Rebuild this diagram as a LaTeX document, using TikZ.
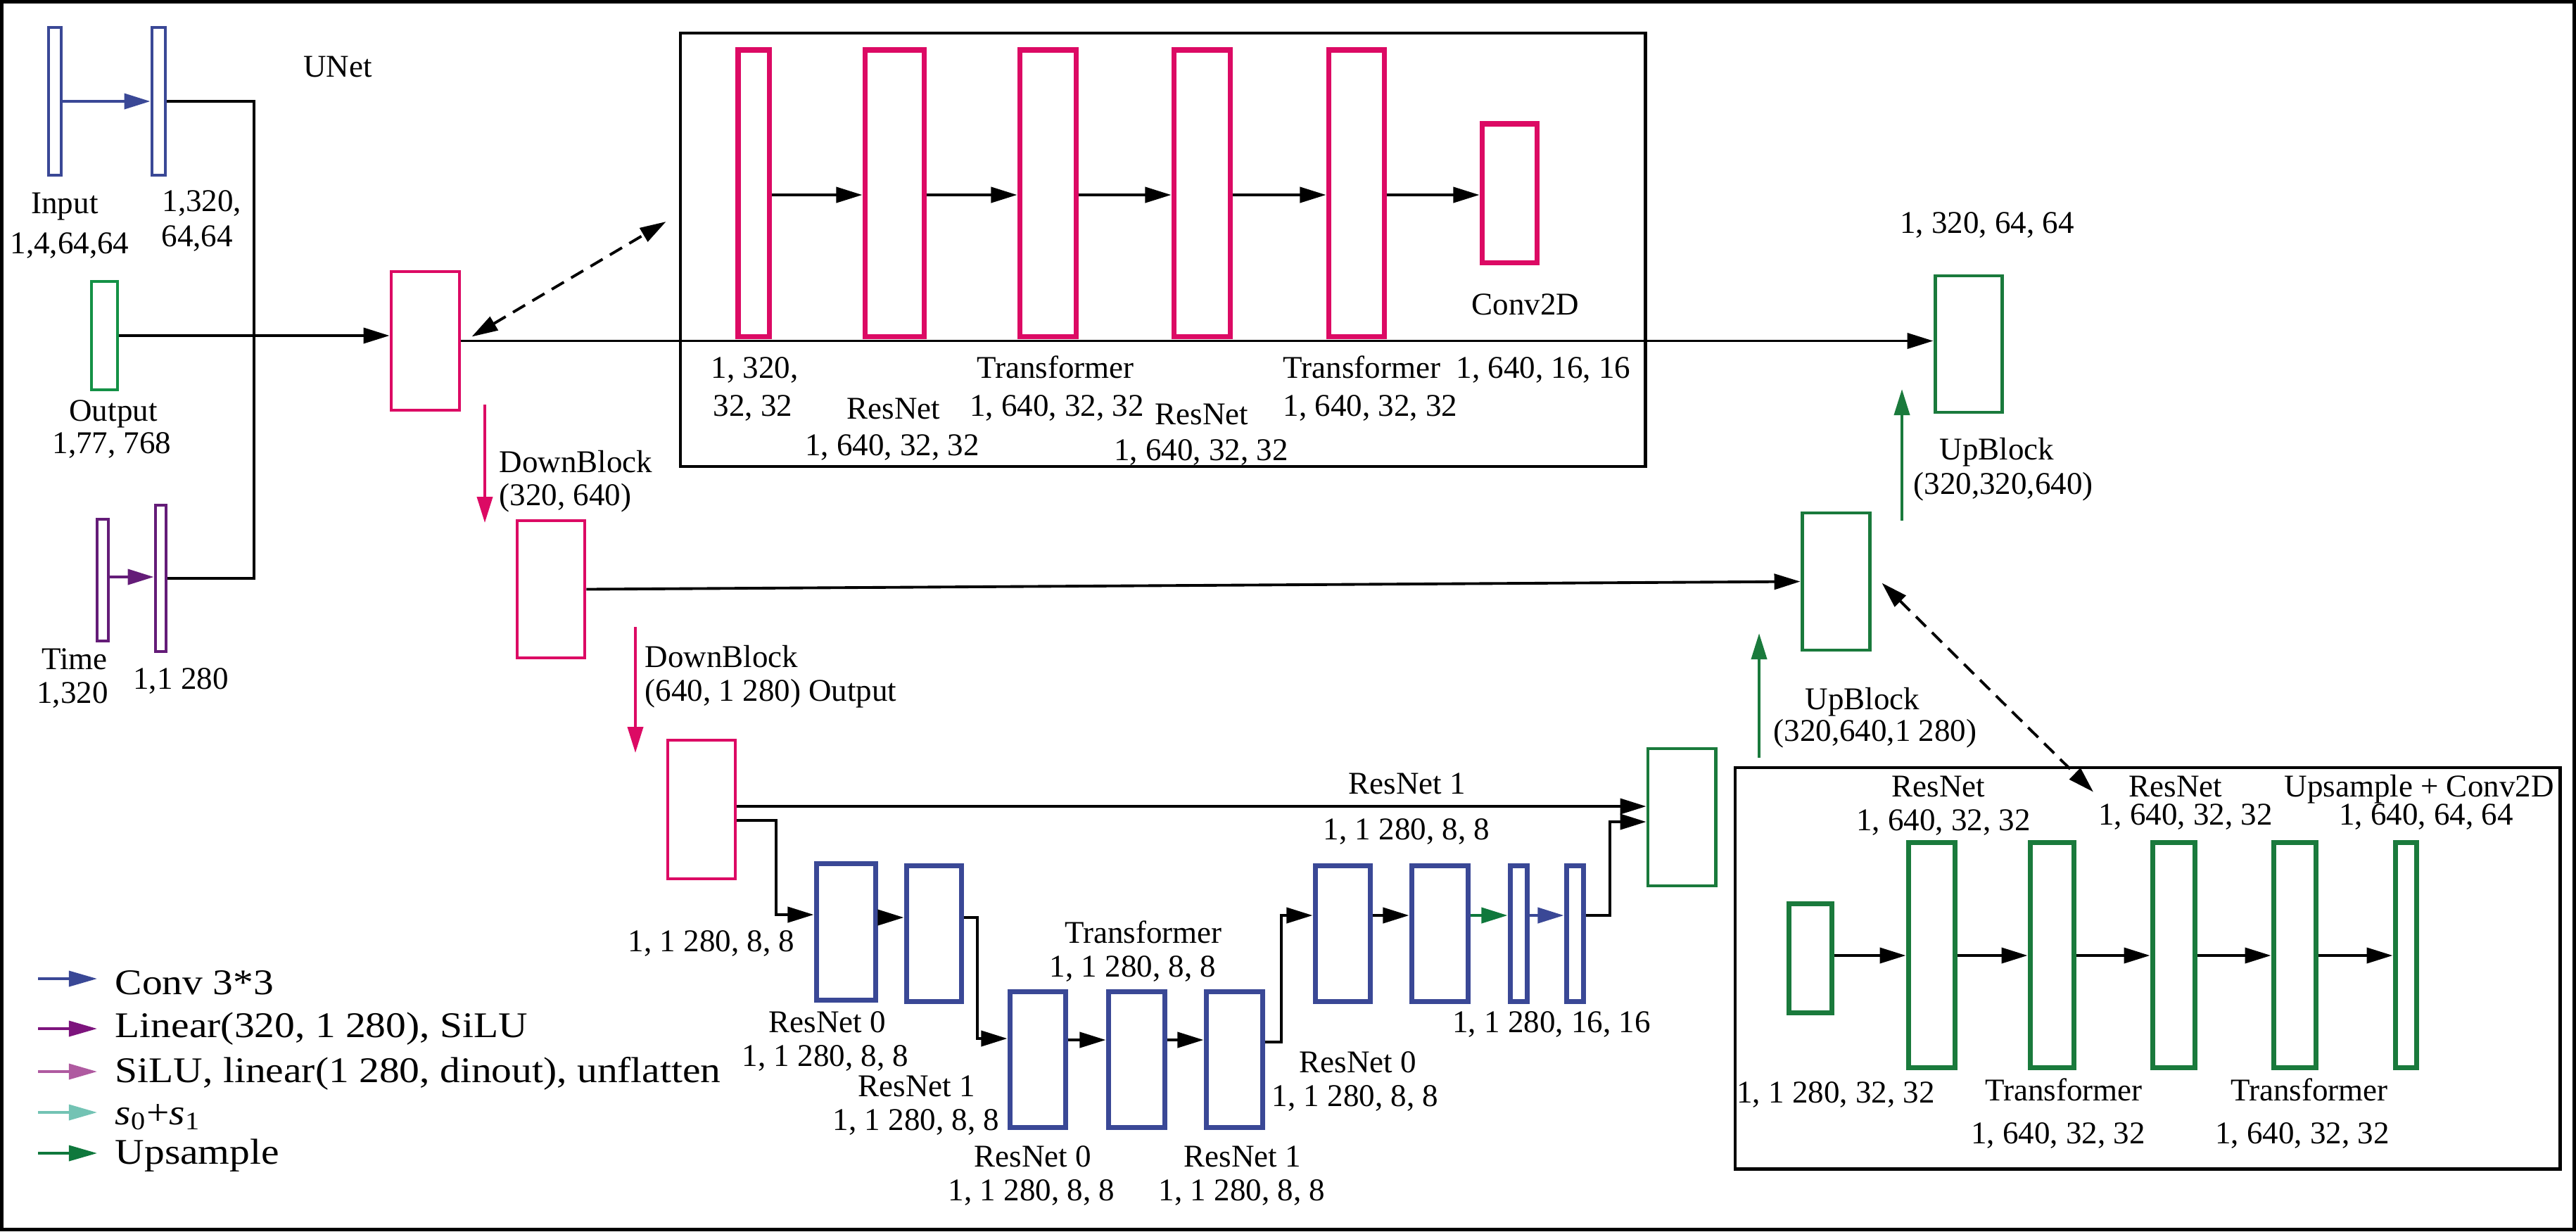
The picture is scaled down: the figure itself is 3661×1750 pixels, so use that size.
\documentclass[tikz,border=0pt]{standalone}
\usepackage{fontspec}
\setmainfont{Liberation Serif}
\usetikzlibrary{arrows.meta}
\definecolor{pinkc}{RGB}{220,10,100}
\definecolor{bluec}{RGB}{58,72,150}
\definecolor{greenc}{RGB}{26,122,60}
\definecolor{outgreen}{RGB}{20,145,70}
\definecolor{purplec}{RGB}{100,28,120}
\definecolor{legpurple}{RGB}{125,20,125}
\definecolor{legpink}{RGB}{175,90,160}
\definecolor{legteal}{RGB}{115,195,180}
\definecolor{legblue}{RGB}{58,72,150}
\definecolor{leggreen}{RGB}{15,120,60}
\newcommand{\myrect}[6]{%
  \pgfmathsetmacro\rcx{(#3+#5)/2}%
  \pgfmathsetmacro\rcy{(#4+#6)/2}%
  \pgfmathsetmacro\rw{(#5-#3-6)*0.01}%
  \pgfmathsetmacro\rh{(#6-#4-6)*0.01}%
  \node[#2, minimum width=\rw cm, minimum height=\rh cm] (#1) at (\rcx,\rcy) {};}
\newcommand{\lbl}[5]{\node[lab, anchor=#2] (#1) at (#3,{#4+15}) {#5};}
\begin{document}
\begin{tikzpicture}[x=0.01cm,y=-0.01cm,
  thinbox/.style={draw, line width=1.4pt, inner sep=0pt},
  thickbox/.style={draw, line width=2pt, inner sep=0pt},
  ln/.style={line width=1.1pt},
  arr/.style={ln, -{Triangle[length=0.37cm,width=0.22cm]}},
  legarr/.style={line width=1pt, -{Triangle[length=0.4cm,width=0.22cm]}},
  darr/.style={ln, dash pattern=on 0.2cm off 0.12cm, {Triangle[length=0.37cm,width=0.22cm]}-{Triangle[length=0.37cm,width=0.22cm]}},
  lab/.style={inner sep=0pt, font=\fontsize{12.8}{15}\selectfont},
  leg/.style={inner sep=0pt, xscale=1.12, transform shape, font=\fontsize{14.6}{17}\selectfont}]
\useasboundingbox (0,0) rectangle (3661,1750);
\draw[line width=1.4pt] (2.5,2.5) rectangle (3658.5,1747.5);

% left column
\myrect{in1}{thinbox,draw=bluec}{66}{36}{90}{252}
\myrect{in2}{thinbox,draw=bluec}{213}{36}{238}{252}
\myrect{outb}{thinbox,draw=outgreen}{127}{397}{170}{557}
\myrect{t1}{thinbox,draw=purplec}{135}{735}{157}{914}
\myrect{t2}{thinbox,draw=purplec}{218}{715}{239}{929}
% down path
\myrect{p1}{thinbox,draw=pinkc}{553}{383}{656}{586}
\myrect{p2}{thinbox,draw=pinkc}{732}{737}{834}{938}
\myrect{p3}{thinbox,draw=pinkc}{946}{1049}{1048}{1252}
% UNet detail box
\myrect{unetbox}{thinbox,draw=black}{964}{44}{2341}{666}
\myrect{u1}{thickbox,draw=pinkc}{1046}{68}{1096}{481}
\myrect{u2}{thickbox,draw=pinkc}{1226}{68}{1316}{481}
\myrect{u3}{thickbox,draw=pinkc}{1446}{68}{1532}{481}
\myrect{u4}{thickbox,draw=pinkc}{1665}{68}{1751}{481}
\myrect{u5}{thickbox,draw=pinkc}{1885}{68}{1970}{481}
\myrect{u6}{thickbox,draw=pinkc}{2103}{173}{2187}{376}
% up path
\myrect{g1}{thinbox,draw=greenc}{2747}{389}{2848}{589}
\myrect{g2}{thinbox,draw=greenc}{2558}{726}{2660}{927}
\myrect{g3}{thinbox,draw=greenc}{2339}{1061}{2441}{1262}
% lower right box
\myrect{lowbox}{thinbox,draw=black}{2463}{1088}{3641}{1664}
\myrect{d0}{thickbox,draw=greenc}{2539}{1281}{2606}{1442}
\myrect{d1}{thickbox,draw=greenc}{2709}{1194}{2781}{1520}
\myrect{d2}{thickbox,draw=greenc}{2882}{1194}{2950}{1520}
\myrect{d3}{thickbox,draw=greenc}{3056}{1194}{3122}{1520}
\myrect{d4}{thickbox,draw=greenc}{3228}{1194}{3294}{1520}
\myrect{d5}{thickbox,draw=greenc}{3401}{1194}{3437}{1520}
% mid block (blue)
\myrect{a1}{thickbox,draw=bluec}{1157}{1224}{1247}{1424}
\myrect{a2}{thickbox,draw=bluec}{1285}{1227}{1369}{1426}
\myrect{b1}{thickbox,draw=bluec}{1432}{1406}{1517}{1605}
\myrect{b2}{thickbox,draw=bluec}{1572}{1406}{1658}{1605}
\myrect{b3}{thickbox,draw=bluec}{1711}{1406}{1797}{1605}
\myrect{c1}{thickbox,draw=bluec}{1866}{1227}{1950}{1426}
\myrect{c2}{thickbox,draw=bluec}{2003}{1227}{2089}{1426}
\myrect{c3}{thickbox,draw=bluec}{2143}{1227}{2173}{1426}
\myrect{c4}{thickbox,draw=bluec}{2223}{1227}{2253}{1426}

% connectors left
\draw[arr,bluec] (in1.east) -- (in2.west);
\draw[arr,purplec] (t1.east |- 0,820) -- (t2.west |- 0,820);
\draw[ln] (in2.east) -- (361,144) -- (361,822) -- (t2.east);
\draw[arr] (outb.east) -- (outb.east -| p1.west);
\draw[arr] (p1.east) -- (p1.east -| g1.west);
\draw[darr] ([shift={(15,-6)}]p1.east) -- ([shift={(-18,-40)}]unetbox.west);
% UNet internal
\draw[arr] (u1.east |- 0,277) -- (u2.west |- 0,277);
\draw[arr] (u2.east |- 0,277) -- (u3.west |- 0,277);
\draw[arr] (u3.east |- 0,277) -- (u4.west |- 0,277);
\draw[arr] (u4.east |- 0,277) -- (u5.west |- 0,277);
\draw[arr] (u5.east |- 0,277) -- (u6.west |- 0,277);
% down arrows
\coordinate (pa1s) at (689,575); \coordinate (pa1e) at (689,743);
\draw[arr,pinkc] (pa1s) -- (pa1e);
\coordinate (pa2s) at (903,891); \coordinate (pa2e) at (903,1070);
\draw[arr,pinkc] (pa2s) -- (pa2e);
\draw[arr] (p2.east) -- (g2.west);
% mid block
\draw[arr] (p3.east |- 0,1146) -- (g3.west |- 0,1146);
\draw[arr] (p3.east |- 0,1166) -- (1103,1166) -- (1103,1300) -- (a1.west |- 0,1300);
\draw[arr] (a1.east |- 0,1304) -- (a2.west |- 0,1304);
\draw[arr] (a2.east |- 0,1304) -- (1389,1304) -- (1389,1476) -- (b1.west |- 0,1476);
\draw[arr] (b1.east |- 0,1478) -- (b2.west |- 0,1478);
\draw[arr] (b2.east |- 0,1478) -- (b3.west |- 0,1478);
\draw[arr] (b3.east |- 0,1481) -- (1821,1481) -- (1821,1301) -- (c1.west |- 0,1301);
\draw[arr] (c1.east |- 0,1301) -- (c2.west |- 0,1301);
\draw[arr,leggreen] (c2.east |- 0,1301) -- (c3.west |- 0,1301);
\draw[arr,bluec] (c3.east |- 0,1301) -- (c4.west |- 0,1301);
\draw[arr] (c4.east |- 0,1301) -- (2288,1301) -- (2288,1168) -- (g3.west |- 0,1168);
% up arrows
\coordinate (ga1s) at (2500,1077); \coordinate (ga1e) at (2500,900);
\draw[arr,greenc] (ga1s) -- (ga1e);
\coordinate (ga2s) at (2703,740); \coordinate (ga2e) at (2703,553);
\draw[arr,greenc] (ga2s) -- (ga2e);
\draw[darr] ([shift={(15,2)}]g2.east) -- ([shift={(-77,37)}]lowbox.north);
% lower box internal
\draw[arr] (d0.east |- 0,1358) -- (d1.west |- 0,1358);
\draw[arr] (d1.east |- 0,1358) -- (d2.west |- 0,1358);
\draw[arr] (d2.east |- 0,1358) -- (d3.west |- 0,1358);
\draw[arr] (d3.east |- 0,1358) -- (d4.west |- 0,1358);
\draw[arr] (d4.east |- 0,1358) -- (d5.west |- 0,1358);

% labels left
\lbl{tUNet}{base}{480}{94}{UNet}
\lbl{tIn}{base}{92}{288}{Input}
\lbl{tIn2}{base}{99}{345}{1,4,64,64}
\lbl{tC1}{base west}{230}{285}{1,320,}
\lbl{tC2}{base west}{229}{335}{64,64}
\lbl{tOut}{base}{161}{583}{Output}
\lbl{tOut2}{base}{159}{629}{1,77, 768}
\lbl{tTime}{base}{106}{936}{Time}
\lbl{tTime2}{base}{103}{984}{1,320}
\lbl{tT2}{base}{257}{964}{1,1 280}
% UNet box labels
\lbl{tu1a}{base west}{1010}{522}{1, 320,}
\lbl{tu1b}{base west}{1013}{576}{32, 32}
\lbl{tu2a}{base}{1270}{580}{ResNet}
\lbl{tu2b}{base}{1268}{632}{1, 640, 32, 32}
\lbl{tu3a}{base}{1500}{522}{Transformer}
\lbl{tu3b}{base}{1502}{576}{1, 640, 32, 32}
\lbl{tu4a}{base}{1708}{588}{ResNet}
\lbl{tu4b}{base}{1707}{639}{1, 640, 32, 32}
\lbl{tu5a}{base west}{1823}{522}{Transformer}
\lbl{tu5b}{base west}{1823}{576}{1, 640, 32, 32}
\lbl{tu6b}{base west}{2069}{522}{1, 640, 16, 16}
\lbl{tu6a}{base}{2168}{432}{Conv2D}
% down labels
\lbl{tdb1a}{base west}{709}{656}{DownBlock}
\lbl{tdb1b}{base west}{709}{703}{(320, 640)}
\lbl{tdb2a}{base west}{916}{933}{DownBlock}
\lbl{tdb2b}{base west}{916}{981}{(640, 1 280) Output}
% up labels
\lbl{tg1}{base}{2824}{316}{1, 320, 64, 64}
\lbl{tub1a}{base}{2838}{638}{UpBlock}
\lbl{tub1b}{base}{2847}{687}{(320,320,640)}
\lbl{tub2a}{base}{2647}{993}{UpBlock}
\lbl{tub2b}{base}{2665}{1038}{(320,640,1 280)}
% mid labels
\lbl{tr1a}{base}{2000}{1113}{ResNet 1}
\lbl{tr1b}{base}{1999}{1178}{1, 1 280, 8, 8}
\lbl{tm0}{base}{1011}{1337}{1, 1 280, 8, 8}
\lbl{tm1a}{base}{1625}{1325}{Transformer}
\lbl{tm1b}{base}{1610}{1373}{1, 1 280, 8, 8}
\lbl{tm2a}{base}{1176}{1452}{ResNet 0}
\lbl{tm2b}{base}{1173}{1500}{1, 1 280, 8, 8}
\lbl{tm3a}{base}{1303}{1543}{ResNet 1}
\lbl{tm3b}{base}{1302}{1591}{1, 1 280, 8, 8}
\lbl{tm4a}{base}{1468}{1643}{ResNet 0}
\lbl{tm4b}{base}{1466}{1691}{1, 1 280, 8, 8}
\lbl{tm5a}{base}{1766}{1643}{ResNet 1}
\lbl{tm5b}{base}{1765}{1691}{1, 1 280, 8, 8}
\lbl{tm6a}{base}{1930}{1509}{ResNet 0}
\lbl{tm6b}{base}{1926}{1557}{1, 1 280, 8, 8}
\lbl{tm7}{base}{2205}{1452}{1, 1 280, 16, 16}
% lower box labels
\lbl{tl1a}{base}{2755}{1117}{ResNet}
\lbl{tl1b}{base}{2762}{1165}{1, 640, 32, 32}
\lbl{tl2a}{base}{3092}{1117}{ResNet}
\lbl{tl2b}{base}{3106}{1157}{1, 640, 32, 32}
\lbl{tl3a}{base}{3438}{1117}{Upsample + Conv2D}
\lbl{tl3b}{base}{3448}{1157}{1, 640, 64, 64}
\lbl{tl4}{base}{2609}{1552}{1, 1 280, 32, 32}
\lbl{tl5a}{base}{2933}{1549}{Transformer}
\lbl{tl5b}{base}{2925}{1610}{1, 640, 32, 32}
\lbl{tl6a}{base}{3282}{1549}{Transformer}
\lbl{tl6b}{base}{3272}{1610}{1, 640, 32, 32}

% legend
\foreach \i/\yy/\cc in {1/1391/legblue, 2/1462/legpurple, 3/1523/legpink, 4/1581/legteal, 5/1639/leggreen} {
  \coordinate (ls\i) at (54,\yy);
  \coordinate (le\i) at (138,\yy);
  \draw[legarr,\cc] (ls\i) -- (le\i);
}
\node[leg, anchor=base west] (lt1) at (163,1413) {Conv 3*3};
\node[leg, anchor=base west] (lt2) at (163,1474) {Linear(320, 1 280), SiLU};
\node[leg, anchor=base west] (lt3) at (163,1538) {SiLU, linear(1 280, dinout), unflatten};
\node[leg, anchor=base west] (lt4) at (163,1598) {\textit{s}\textsubscript{0}+\textit{s}\textsubscript{1}};
\node[leg, anchor=base west] (lt5) at (163,1654) {Upsample};
\end{tikzpicture}
\end{document}
